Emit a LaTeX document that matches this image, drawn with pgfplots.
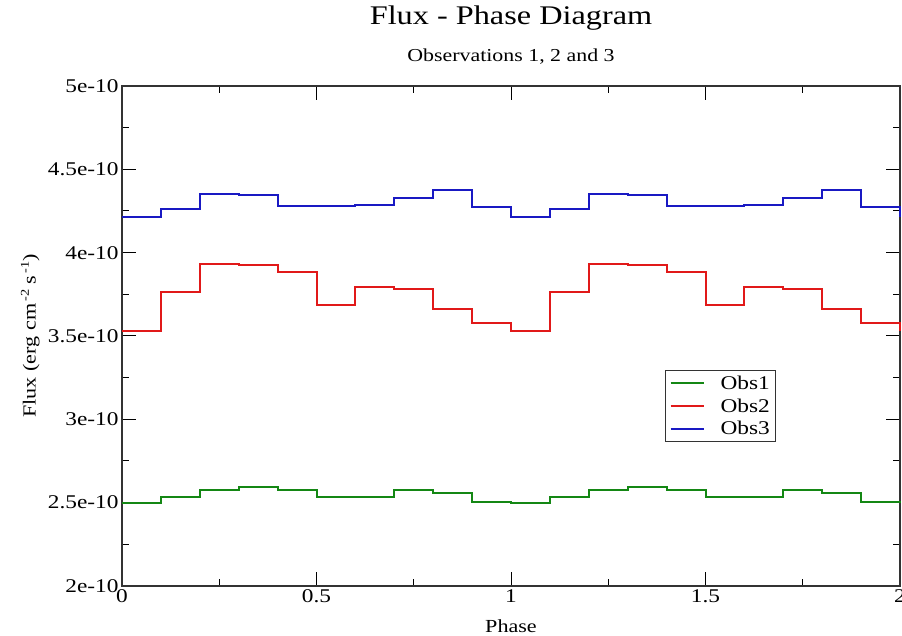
\documentclass[border=0pt]{standalone}
\usepackage{pgfplots}
\pgfplotsset{compat=1.18}
\usepackage{fontspec}
\setmainfont{Liberation Serif}[FakeStretch=1.2]

\definecolor{gcol}{RGB}{20,135,20}
\definecolor{rcol}{RGB}{225,25,25}
\definecolor{bcol}{RGB}{25,25,195}

\pgfplotstableread{
x      o1        o2        o3
0.0    2.497e-10 3.528e-10 4.213e-10
0.1    2.532e-10 3.761e-10 4.261e-10
0.2    2.574e-10 3.934e-10 4.354e-10
0.3    2.596e-10 3.926e-10 4.347e-10
0.4    2.574e-10 3.882e-10 4.277e-10
0.5    2.532e-10 3.683e-10 4.277e-10
0.6    2.532e-10 3.791e-10 4.283e-10
0.7    2.574e-10 3.782e-10 4.329e-10
0.8    2.556e-10 3.661e-10 4.378e-10
0.9    2.505e-10 3.576e-10 4.275e-10
1.0    2.497e-10 3.528e-10 4.213e-10
1.1    2.532e-10 3.761e-10 4.261e-10
1.2    2.574e-10 3.934e-10 4.354e-10
1.3    2.596e-10 3.926e-10 4.347e-10
1.4    2.574e-10 3.882e-10 4.277e-10
1.5    2.532e-10 3.683e-10 4.277e-10
1.6    2.532e-10 3.791e-10 4.283e-10
1.7    2.574e-10 3.782e-10 4.329e-10
1.8    2.556e-10 3.661e-10 4.378e-10
1.9    2.505e-10 3.576e-10 4.275e-10
2.0    2.497e-10 3.528e-10 4.213e-10
}\fluxdata

\begin{document}
\begin{tikzpicture}
\begin{axis}[
  at={(0,0)}, anchor=south west,
  width=778bp, height=500bp, scale only axis,
  xmin=0, xmax=2, ymin=2e-10, ymax=5e-10,
  xtick={0,0.5,1,1.5,2}, xticklabels={0,0.5,1,1.5,2},
  ytick={2e-10,2.5e-10,3e-10,3.5e-10,4e-10,4.5e-10,5e-10},
  yticklabels={2e-10,2.5e-10,3e-10,3.5e-10,4e-10,4.5e-10,5e-10},
  scaled y ticks=false, scaled x ticks=false,
  minor x tick num=1, minor y tick num=1,
  tick align=inside, tick pos=both,
  major tick length=14bp, minor tick length=7bp,
  axis line style={line width=1.6bp, black!80},
  every tick/.style={black, line width=1bp},
  ticklabel style={font=\fontsize{19.5}{21}\selectfont},
  xlabel={Phase},
  ylabel={Flux (erg cm\raisebox{0.8ex}{\fontsize{12}{12}\selectfont\,-2} s\raisebox{0.8ex}{\fontsize{12}{12}\selectfont\,-1})},
  label style={font=\fontsize{18.5}{20}\selectfont},
  xlabel style={at={(axis description cs:0.5,-0.08)}, anchor=center},
  ylabel style={at={(axis description cs:-0.118,0.5)}, anchor=center},
  legend style={at={(axis description cs:0.698,0.432)}, anchor=north west,
    draw=black!80, line width=1.2bp, font=\fontsize{19.5}{21}\selectfont,
    inner xsep=4bp, inner ysep=3bp, row sep=4bp},
  legend cell align=left,
  legend image code/.code={\draw[#1, line width=2bp] (0bp,0bp) -- (33bp,0bp); \path (47bp,0bp);},
  clip=false,
]
\addplot[const plot, gcol, line width=2bp] table[x=x, y=o1] {\fluxdata};
\addlegendentry{Obs1}
\addplot[const plot, rcol, line width=2bp] table[x=x, y=o2] {\fluxdata};
\addlegendentry{Obs2}
\addplot[const plot, bcol, line width=2bp] table[x=x, y=o3] {\fluxdata};
\addlegendentry{Obs3}
\node[font=\fontsize{27}{32}\selectfont, anchor=center] at (axis description cs:0.5,1.136) {Flux - Phase Diagram};
\node[font=\fontsize{18.3}{21}\selectfont, anchor=center] at (axis description cs:0.5,1.058) {Observations 1, 2 and 3};
\end{axis}
\pgfresetboundingbox
\path (-122bp,-50bp) rectangle (780bp,586bp);
\end{tikzpicture}
\end{document}
